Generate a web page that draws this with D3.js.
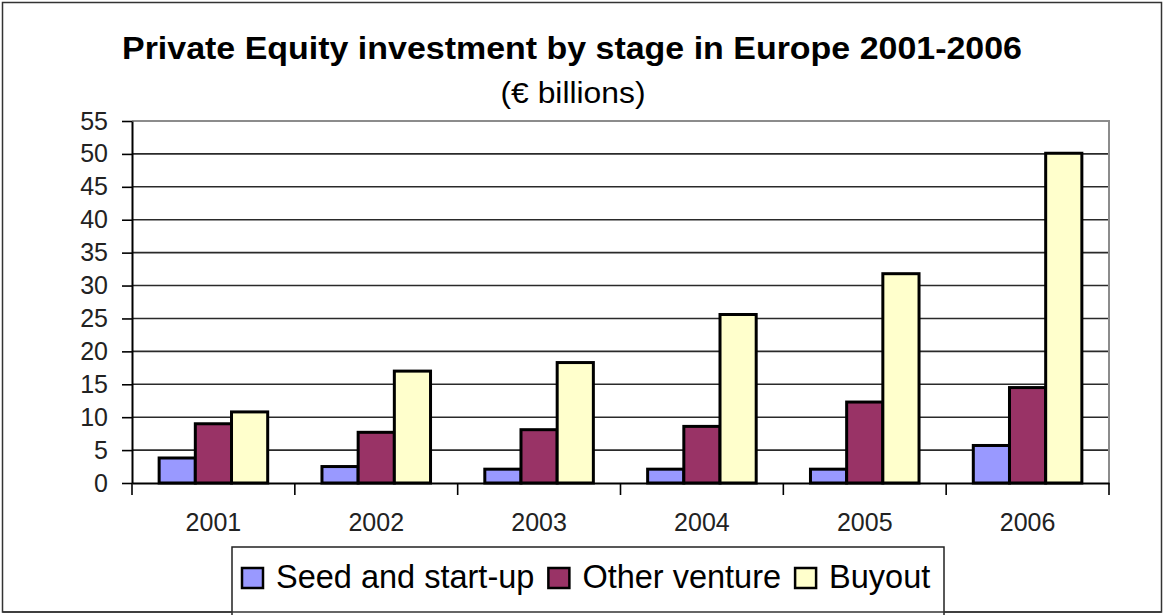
<!DOCTYPE html>
<html>
<head>
<meta charset="utf-8">
<title>Private Equity investment by stage</title>
<script src="https://d3js.org/d3.v7.min.js"></script>
<style>
  body { margin: 0; background: #fff; }
  svg { display: block; font-family: "Liberation Sans", Arial, sans-serif; }
</style>
</head>
<body>
<svg id="chart" width="1164" height="615"></svg>
<script>
  // data (€ billions)
  const years = ["2001", "2002", "2003", "2004", "2005", "2006"];
  const seriesNames = ["Seed and start-up", "Other venture", "Buyout"];
  const seed = [3.8, 2.5, 2.1, 2.1, 2.1, 5.7];
  const otherVenture = [9.0, 7.7, 8.1, 8.6, 12.3, 14.5];
  const buyout = [10.8, 17.0, 18.3, 25.6, 31.8, 50.1];
  const yTicks = [0, 5, 10, 15, 20, 25, 30, 35, 40, 45, 50, 55];
  const colors = ["#9999ff", "#993366", "#ffffcc"];

  const seriesValues = [seed, otherVenture, buyout];
  const rows = years.map((yr, i) => ({
    year: yr,
    values: seriesNames.map((s, j) => ({ key: s, value: seriesValues[j][i] }))
  }));

  const svg = d3.select("#chart");

  const plot = { left: 132, right: 1109, top: 121, bottom: 483 };

  // outer frame
  svg.append("rect")
    .attr("x", 2.5).attr("y", 2.5)
    .attr("width", 1159).attr("height", 609.5)
    .attr("fill", "none").attr("stroke", "#333").attr("stroke-width", 1.5);

  // titles
  svg.append("text")
    .attr("x", 572).attr("y", 59)
    .attr("text-anchor", "middle")
    .attr("font-size", 32).attr("font-weight", "bold")
    .attr("textLength", 900).attr("lengthAdjust", "spacingAndGlyphs")
    .text("Private Equity investment by stage in Europe 2001-2006");

  svg.append("text")
    .attr("x", 573).attr("y", 103)
    .attr("text-anchor", "middle")
    .attr("font-size", 30)
    .attr("textLength", 145).attr("lengthAdjust", "spacingAndGlyphs")
    .text("(€ billions)");

  const x0 = d3.scaleBand().domain(years).range([plot.left, plot.right]).padding(0);
  const x1 = d3.scaleBand().domain(seriesNames).range([0, x0.bandwidth()])
    .paddingInner(0).paddingOuter(0.75);
  const y = d3.scaleLinear().domain([0, 55]).range([plot.bottom, plot.top]);

  // gridlines
  svg.append("g")
    .selectAll("line")
    .data(yTicks.filter(d => d > 0 && d < 55))
    .join("line")
    .attr("x1", plot.left).attr("x2", plot.right)
    .attr("y1", d => y(d)).attr("y2", d => y(d))
    .attr("stroke", "#2a2a2a").attr("stroke-width", 1.6);

  // plot border (top / right) in grey
  svg.append("path")
    .attr("d", `M${plot.left},${y(55)}H${plot.right}V${plot.bottom}`)
    .attr("fill", "none").attr("stroke", "#8c8c8c").attr("stroke-width", 2);

  // bars
  svg.append("g")
    .selectAll("g")
    .data(rows)
    .join("g")
    .attr("transform", d => `translate(${x0(d.year)},0)`)
    .selectAll("rect")
    .data(d => d.values)
    .join("rect")
    .attr("x", d => x1(d.key))
    .attr("y", d => y(d.value))
    .attr("width", x1.bandwidth())
    .attr("height", d => y(0) - y(d.value))
    .attr("fill", (d, i) => colors[i])
    .attr("stroke", "#000").attr("stroke-width", 3);

  // y axis
  const gy = svg.append("g")
    .attr("transform", `translate(${plot.left},0)`)
    .call(d3.axisLeft(y).tickValues(yTicks).tickSize(10).tickSizeOuter(0).tickPadding(14));
  gy.select(".domain").attr("stroke", "#000").attr("stroke-width", 2);
  gy.selectAll(".tick line").attr("stroke", "#000").attr("stroke-width", 1.6);
  gy.selectAll(".tick text")
    .attr("font-size", 25).attr("fill", "#222")
    .attr("font-family", "'Liberation Sans', Arial, sans-serif");

  // x axis
  const gx = svg.append("g")
    .attr("transform", `translate(0,${plot.bottom})`)
    .call(d3.axisBottom(x0).tickSize(0).tickSizeOuter(0).tickPadding(30));
  gx.select(".domain").attr("stroke", "#000").attr("stroke-width", 2);
  gx.selectAll(".tick text")
    .attr("font-size", 25).attr("fill", "#222")
    .attr("font-family", "'Liberation Sans', Arial, sans-serif");

  // category boundary ticks
  const bounds = years.map(d => x0(d)).concat([x0.range()[1]]);
  gx.append("g")
    .selectAll("line")
    .data(bounds)
    .join("line")
    .attr("x1", d => d).attr("x2", d => d)
    .attr("y1", 0).attr("y2", 12)
    .attr("stroke", "#000").attr("stroke-width", 1.6);

  // legend
  const legend = svg.append("g");
  legend.append("rect")
    .attr("x", 232).attr("y", 547)
    .attr("width", 712).attr("height", 70)
    .attr("fill", "#fff").attr("stroke", "#222").attr("stroke-width", 1.5);

  let lx = 242;
  seriesNames.forEach((name, i) => {
    legend.append("rect")
      .attr("x", lx).attr("y", 568)
      .attr("width", 21).attr("height", 20)
      .attr("fill", colors[i]).attr("stroke", "#000").attr("stroke-width", 2.5);
    const t = legend.append("text")
      .attr("x", lx + 34).attr("y", 588)
      .attr("font-size", 32.5).attr("fill", "#000")
      .text(name);
    lx += 34 + t.node().getComputedTextLength() + 14;
  });

  // redraw frame bottom over legend
  svg.append("line")
    .attr("x1", 2.5).attr("x2", 1161.5).attr("y1", 612).attr("y2", 612)
    .attr("stroke", "#333").attr("stroke-width", 1.5);
</script>
</body>
</html>
